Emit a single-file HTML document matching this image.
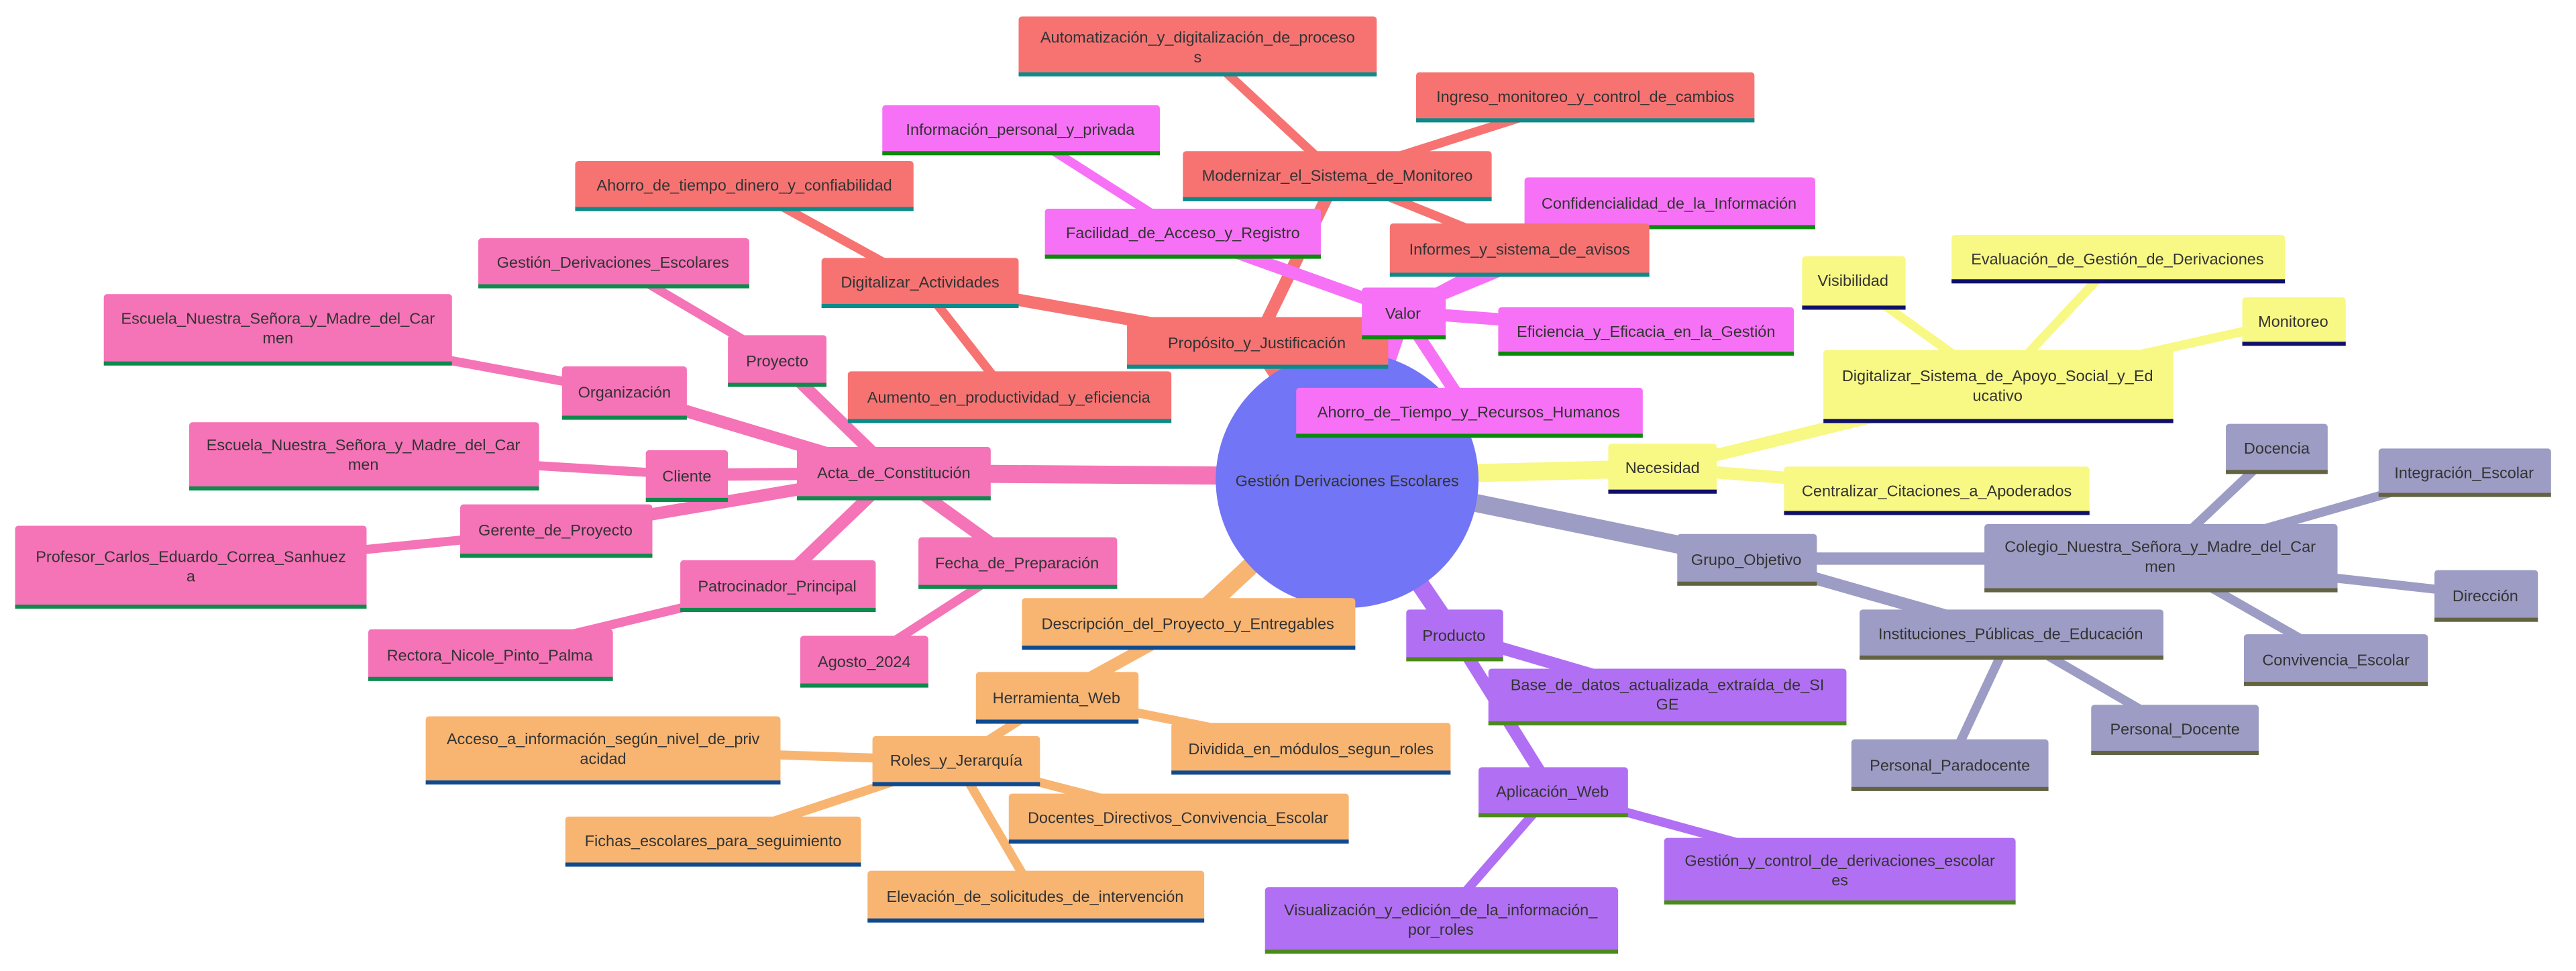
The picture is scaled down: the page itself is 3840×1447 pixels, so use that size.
<!DOCTYPE html>
<html><head><meta charset="utf-8"><style>
html,body{margin:0;padding:0;background:#fff;width:3840px;height:1447px;overflow:hidden}
svg text{font-family:"Liberation Sans",sans-serif;font-size:9.6px;fill:#333;text-anchor:middle}
</style></head><body>
<svg width="3840" height="1447" viewBox="0 0 1568 591" xmlns="http://www.w3.org/2000/svg">
<g stroke-linecap="butt">
<g stroke-width="11">
<line x1="820" y1="290" x2="765" y2="208" stroke="#f67372"/>
<line x1="820" y1="290" x2="854" y2="190" stroke="#f771f7"/>
<line x1="820" y1="290" x2="1012" y2="285" stroke="#f8f884"/>
<line x1="820" y1="290" x2="1063" y2="340" stroke="#9c9cc4"/>
<line x1="820" y1="290" x2="885" y2="386" stroke="#b170f3"/>
<line x1="820" y1="290" x2="723" y2="380" stroke="#f8b571"/>
<line x1="820" y1="290" x2="544" y2="288" stroke="#f573b7"/>
</g>
<g stroke-width="7.5">
<line x1="765" y1="208" x2="560" y2="172" stroke="#f67372"/>
<line x1="765" y1="208" x2="814" y2="107" stroke="#f67372"/>
<line x1="854" y1="190" x2="720" y2="142" stroke="#f771f7"/>
<line x1="854" y1="190" x2="925" y2="152" stroke="#f771f7"/>
<line x1="854" y1="190" x2="1002" y2="201" stroke="#f771f7"/>
<line x1="854" y1="190" x2="894" y2="251" stroke="#f771f7"/>
<line x1="1012" y1="285" x2="1216" y2="235" stroke="#f8f884"/>
<line x1="1012" y1="285" x2="1179" y2="298" stroke="#f8f884"/>
<line x1="1063" y1="340" x2="1315" y2="340" stroke="#9c9cc4"/>
<line x1="1063" y1="340" x2="1224" y2="386" stroke="#9c9cc4"/>
<line x1="885" y1="386" x2="1015" y2="424" stroke="#b170f3"/>
<line x1="885" y1="386" x2="945" y2="482" stroke="#b170f3"/>
<line x1="723" y1="380" x2="643" y2="424" stroke="#f8b571"/>
<line x1="544" y1="288" x2="473" y2="219" stroke="#f573b7"/>
<line x1="544" y1="288" x2="380" y2="239" stroke="#f573b7"/>
<line x1="544" y1="288" x2="418" y2="289" stroke="#f573b7"/>
<line x1="544" y1="288" x2="338" y2="323" stroke="#f573b7"/>
<line x1="544" y1="288" x2="473" y2="356" stroke="#f573b7"/>
<line x1="544" y1="288" x2="619" y2="342" stroke="#f573b7"/>
</g>
<g stroke-width="5.5">
<line x1="560" y1="172" x2="453" y2="113" stroke="#f67372"/>
<line x1="560" y1="172" x2="614" y2="241" stroke="#f67372"/>
<line x1="814" y1="107" x2="729" y2="28" stroke="#f67372"/>
<line x1="814" y1="107" x2="965" y2="59" stroke="#f67372"/>
<line x1="814" y1="107" x2="925" y2="152" stroke="#f67372"/>
<line x1="720" y1="142" x2="621" y2="79" stroke="#f771f7"/>
<line x1="854" y1="190" x2="1016" y2="123" stroke="#f771f7"/>
<line x1="1216" y1="235" x2="1128" y2="172" stroke="#f8f884"/>
<line x1="1216" y1="235" x2="1289" y2="157" stroke="#f8f884"/>
<line x1="1216" y1="235" x2="1396" y2="195" stroke="#f8f884"/>
<line x1="1315" y1="340" x2="1386" y2="273" stroke="#9c9cc4"/>
<line x1="1315" y1="340" x2="1500" y2="287" stroke="#9c9cc4"/>
<line x1="1315" y1="340" x2="1513" y2="362" stroke="#9c9cc4"/>
<line x1="1315" y1="340" x2="1422" y2="401" stroke="#9c9cc4"/>
<line x1="1224" y1="386" x2="1324" y2="444" stroke="#9c9cc4"/>
<line x1="1224" y1="386" x2="1187" y2="465" stroke="#9c9cc4"/>
<line x1="945" y1="482" x2="1120" y2="530" stroke="#b170f3"/>
<line x1="945" y1="482" x2="877" y2="560" stroke="#b170f3"/>
<line x1="643" y1="424" x2="798" y2="455" stroke="#f8b571"/>
<line x1="643" y1="424" x2="582" y2="463" stroke="#f8b571"/>
<line x1="582" y1="463" x2="367" y2="456" stroke="#f8b571"/>
<line x1="582" y1="463" x2="717" y2="498" stroke="#f8b571"/>
<line x1="582" y1="463" x2="434" y2="512" stroke="#f8b571"/>
<line x1="582" y1="463" x2="630" y2="545" stroke="#f8b571"/>
<line x1="473" y1="219" x2="373" y2="160" stroke="#f573b7"/>
<line x1="380" y1="239" x2="169" y2="200" stroke="#f573b7"/>
<line x1="418" y1="289" x2="221" y2="277" stroke="#f573b7"/>
<line x1="338" y1="323" x2="116" y2="345" stroke="#f573b7"/>
<line x1="473" y1="356" x2="298" y2="398" stroke="#f573b7"/>
<line x1="619" y1="342" x2="526" y2="402" stroke="#f573b7"/>
</g>
</g>

<ellipse cx="820" cy="292" rx="80" ry="78" fill="#7275f5"/>
<text x="820" y="296">Gestión Derivaciones Escolares</text>

<g>
<rect x="620" y="10" width="218" height="36" rx="2" fill="#f67372"/><rect x="620" y="44" width="218" height="2.5" fill="#0d8a8a"/>
<text x="729" y="26">Automatización_y_digitalización_de_proceso</text><text x="729" y="38">s</text>
<rect x="862" y="44" width="206" height="30" rx="2" fill="#f67372"/><rect x="862" y="72" width="206" height="2.5" fill="#0d8a8a"/><text x="965" y="62">Ingreso_monitoreo_y_control_de_cambios</text>
<rect x="350" y="98" width="206" height="30" rx="2" fill="#f67372"/><rect x="350" y="126" width="206" height="2.5" fill="#0d8a8a"/><text x="453" y="116">Ahorro_de_tiempo_dinero_y_confiabilidad</text>
<rect x="500" y="157" width="120" height="30" rx="2" fill="#f67372"/><rect x="500" y="185" width="120" height="2.5" fill="#0d8a8a"/><text x="560" y="175">Digitalizar_Actividades</text>
<rect x="516" y="226" width="197" height="31" rx="2" fill="#f67372"/><rect x="516" y="255" width="197" height="2.5" fill="#0d8a8a"/><text x="614" y="245">Aumento_en_productividad_y_eficiencia</text>
</g>
<g>
<rect x="537" y="64" width="169" height="30" rx="2" fill="#f771f7"/><rect x="537" y="92" width="169" height="2.5" fill="#0a8a0a"/><text x="621" y="82">Información_personal_y_privada</text>
<rect x="928" y="108" width="177" height="31" rx="2" fill="#f771f7"/><rect x="928" y="137" width="177" height="2.5" fill="#0a8a0a"/><text x="1016" y="127">Confidencialidad_de_la_Información</text>
</g>
<g>
<rect x="720" y="92" width="188" height="30" rx="2" fill="#f67372"/><rect x="720" y="120" width="188" height="2.5" fill="#0d8a8a"/><text x="814" y="110">Modernizar_el_Sistema_de_Monitoreo</text>
<rect x="636" y="127" width="168" height="30" rx="2" fill="#f771f7"/><rect x="636" y="155" width="168" height="2.5" fill="#0a8a0a"/><text x="720" y="145">Facilidad_de_Acceso_y_Registro</text>
<rect x="846" y="136" width="158" height="32" rx="2" fill="#f67372"/><rect x="846" y="166" width="158" height="2.5" fill="#0d8a8a"/><text x="925" y="155">Informes_y_sistema_de_avisos</text>
<rect x="686" y="193" width="159" height="31" rx="2" fill="#f67372"/><rect x="686" y="222" width="159" height="2.5" fill="#0d8a8a"/><text x="765" y="212">Propósito_y_Justificación</text>
<rect x="829" y="175" width="51" height="31" rx="2" fill="#f771f7"/><rect x="829" y="204" width="51" height="2.5" fill="#0a8a0a"/><text x="854" y="194">Valor</text>
<rect x="912" y="187" width="180" height="29" rx="2" fill="#f771f7"/><rect x="912" y="214" width="180" height="2.5" fill="#0a8a0a"/><text x="1002" y="205">Eficiencia_y_Eficacia_en_la_Gestión</text>
<rect x="789" y="236" width="211" height="30" rx="2" fill="#f771f7"/><rect x="789" y="264" width="211" height="2.5" fill="#0a8a0a"/><text x="894" y="254">Ahorro_de_Tiempo_y_Recursos_Humanos</text>
</g>
<g>
<rect x="1097" y="156" width="63" height="32" rx="2" fill="#f8f884"/><rect x="1097" y="186" width="63" height="2.5" fill="#10106b"/><text x="1128" y="174">Visibilidad</text>
<rect x="1188" y="143" width="203" height="29" rx="2" fill="#f8f884"/><rect x="1188" y="170" width="203" height="2.5" fill="#10106b"/><text x="1289" y="161">Evaluación_de_Gestión_de_Derivaciones</text>
<rect x="1365" y="181" width="63" height="29" rx="2" fill="#f8f884"/><rect x="1365" y="208" width="63" height="2.5" fill="#10106b"/><text x="1396" y="199">Monitoreo</text>
<rect x="1110" y="213" width="213" height="44" rx="2" fill="#f8f884"/><rect x="1110" y="255" width="213" height="2.5" fill="#10106b"/>
<text x="1216" y="232">Digitalizar_Sistema_de_Apoyo_Social_y_Ed</text><text x="1216" y="244">ucativo</text>
<rect x="979" y="270" width="66" height="30" rx="2" fill="#f8f884"/><rect x="979" y="298" width="66" height="2.5" fill="#10106b"/><text x="1012" y="288">Necesidad</text>
<rect x="1086" y="284" width="186" height="29" rx="2" fill="#f8f884"/><rect x="1086" y="311" width="186" height="2.5" fill="#10106b"/><text x="1179" y="302">Centralizar_Citaciones_a_Apoderados</text>
</g>
<g>
<rect x="1355" y="258" width="62" height="30" rx="2" fill="#9c9cc4"/><rect x="1355" y="286" width="62" height="2.5" fill="#636341"/><text x="1386" y="276">Docencia</text>
<rect x="1448" y="273" width="105" height="29" rx="2" fill="#9c9cc4"/><rect x="1448" y="300" width="105" height="2.5" fill="#636341"/><text x="1500" y="291">Integración_Escolar</text>
<rect x="1208" y="319" width="215" height="41" rx="2" fill="#9c9cc4"/><rect x="1208" y="358" width="215" height="2.5" fill="#636341"/>
<text x="1315" y="336">Colegio_Nuestra_Señora_y_Madre_del_Car</text><text x="1315" y="348">men</text>
<rect x="1021" y="325" width="85" height="31" rx="2" fill="#9c9cc4"/><rect x="1021" y="354" width="85" height="2.5" fill="#636341"/><text x="1063" y="344">Grupo_Objetivo</text>
<rect x="1482" y="347" width="63" height="31" rx="2" fill="#9c9cc4"/><rect x="1482" y="376" width="63" height="2.5" fill="#636341"/><text x="1513" y="366">Dirección</text>
<rect x="1132" y="371" width="185" height="30" rx="2" fill="#9c9cc4"/><rect x="1132" y="399" width="185" height="2.5" fill="#636341"/><text x="1224" y="389">Instituciones_Públicas_de_Educación</text>
<rect x="1366" y="386" width="112" height="31" rx="2" fill="#9c9cc4"/><rect x="1366" y="415" width="112" height="2.5" fill="#636341"/><text x="1422" y="405">Convivencia_Escolar</text>
<rect x="1273" y="429" width="102" height="30" rx="2" fill="#9c9cc4"/><rect x="1273" y="457" width="102" height="2.5" fill="#636341"/><text x="1324" y="447">Personal_Docente</text>
<rect x="1127" y="450" width="120" height="31" rx="2" fill="#9c9cc4"/><rect x="1127" y="479" width="120" height="2.5" fill="#636341"/><text x="1187" y="469">Personal_Paradocente</text>
</g>
<g>
<rect x="856" y="371" width="59" height="31" rx="2" fill="#b170f3"/><rect x="856" y="400" width="59" height="2.5" fill="#4b8a1a"/><text x="885" y="390">Producto</text>
<rect x="906" y="407" width="218" height="34" rx="2" fill="#b170f3"/><rect x="906" y="439" width="218" height="2.5" fill="#4b8a1a"/>
<text x="1015" y="420">Base_de_datos_actualizada_extraída_de_SI</text><text x="1015" y="432">GE</text>
<rect x="900" y="467" width="91" height="30" rx="2" fill="#b170f3"/><rect x="900" y="495" width="91" height="2.5" fill="#4b8a1a"/><text x="945" y="485">Aplicación_Web</text>
<rect x="1013" y="510" width="214" height="40" rx="2" fill="#b170f3"/><rect x="1013" y="548" width="214" height="2.5" fill="#4b8a1a"/>
<text x="1120" y="527">Gestión_y_control_de_derivaciones_escolar</text><text x="1120" y="539">es</text>
<rect x="770" y="540" width="215" height="40" rx="2" fill="#b170f3"/><rect x="770" y="578" width="215" height="2.5" fill="#4b8a1a"/>
<text x="877" y="557">Visualización_y_edición_de_la_información_</text><text x="877" y="569">por_roles</text>
</g>
<g>
<rect x="622" y="364" width="203" height="31" rx="2" fill="#f8b571"/><rect x="622" y="393" width="203" height="2.5" fill="#0f4a8f"/><text x="723" y="383">Descripción_del_Proyecto_y_Entregables</text>
<rect x="594" y="409" width="99" height="31" rx="2" fill="#f8b571"/><rect x="594" y="438" width="99" height="2.5" fill="#0f4a8f"/><text x="643" y="428">Herramienta_Web</text>
<rect x="713" y="440" width="170" height="31" rx="2" fill="#f8b571"/><rect x="713" y="469" width="170" height="2.5" fill="#0f4a8f"/><text x="798" y="459">Dividida_en_módulos_segun_roles</text>
<rect x="259" y="436" width="216" height="41" rx="2" fill="#f8b571"/><rect x="259" y="475" width="216" height="2.5" fill="#0f4a8f"/>
<text x="367" y="453">Acceso_a_información_según_nivel_de_priv</text><text x="367" y="465">acidad</text>
<rect x="531" y="448" width="102" height="30" rx="2" fill="#f8b571"/><rect x="531" y="476" width="102" height="2.5" fill="#0f4a8f"/><text x="582" y="466">Roles_y_Jerarquía</text>
<rect x="614" y="483" width="207" height="30" rx="2" fill="#f8b571"/><rect x="614" y="511" width="207" height="2.5" fill="#0f4a8f"/><text x="717" y="501">Docentes_Directivos_Convivencia_Escolar</text>
<rect x="344" y="497" width="180" height="30" rx="2" fill="#f8b571"/><rect x="344" y="525" width="180" height="2.5" fill="#0f4a8f"/><text x="434" y="515">Fichas_escolares_para_seguimiento</text>
<rect x="528" y="530" width="205" height="31" rx="2" fill="#f8b571"/><rect x="528" y="559" width="205" height="2.5" fill="#0f4a8f"/><text x="630" y="549">Elevación_de_solicitudes_de_intervención</text>
</g>
<g>
<rect x="291" y="145" width="165" height="30" rx="2" fill="#f573b7"/><rect x="291" y="173" width="165" height="2.5" fill="#0e8a4c"/><text x="373" y="163">Gestión_Derivaciones_Escolares</text>
<rect x="63" y="179" width="212" height="43" rx="2" fill="#f573b7"/><rect x="63" y="220" width="212" height="2.5" fill="#0e8a4c"/>
<text x="169" y="197">Escuela_Nuestra_Señora_y_Madre_del_Car</text><text x="169" y="209">men</text>
<rect x="342" y="223" width="76" height="32" rx="2" fill="#f573b7"/><rect x="342" y="253" width="76" height="2.5" fill="#0e8a4c"/><text x="380" y="242">Organización</text>
<rect x="443" y="204" width="60" height="31" rx="2" fill="#f573b7"/><rect x="443" y="233" width="60" height="2.5" fill="#0e8a4c"/><text x="473" y="223">Proyecto</text>
<rect x="485" y="272" width="118" height="32" rx="2" fill="#f573b7"/><rect x="485" y="302" width="118" height="2.5" fill="#0e8a4c"/><text x="544" y="291">Acta_de_Constitución</text>
<rect x="115" y="257" width="213" height="41" rx="2" fill="#f573b7"/><rect x="115" y="296" width="213" height="2.5" fill="#0e8a4c"/>
<text x="221" y="274">Escuela_Nuestra_Señora_y_Madre_del_Car</text><text x="221" y="286">men</text>
<rect x="393" y="274" width="50" height="31" rx="2" fill="#f573b7"/><rect x="393" y="303" width="50" height="2.5" fill="#0e8a4c"/><text x="418" y="293">Cliente</text>
<rect x="280" y="307" width="117" height="32" rx="2" fill="#f573b7"/><rect x="280" y="337" width="117" height="2.5" fill="#0e8a4c"/><text x="338" y="326">Gerente_de_Proyecto</text>
<rect x="9" y="320" width="214" height="50" rx="2" fill="#f573b7"/><rect x="9" y="368" width="214" height="2.5" fill="#0e8a4c"/>
<text x="116" y="342">Profesor_Carlos_Eduardo_Correa_Sanhuez</text><text x="116" y="354">a</text>
<rect x="414" y="341" width="119" height="31" rx="2" fill="#f573b7"/><rect x="414" y="370" width="119" height="2.5" fill="#0e8a4c"/><text x="473" y="360">Patrocinador_Principal</text>
<rect x="559" y="327" width="121" height="31" rx="2" fill="#f573b7"/><rect x="559" y="356" width="121" height="2.5" fill="#0e8a4c"/><text x="619" y="346">Fecha_de_Preparación</text>
<rect x="224" y="383" width="149" height="31" rx="2" fill="#f573b7"/><rect x="224" y="412" width="149" height="2.5" fill="#0e8a4c"/><text x="298" y="402">Rectora_Nicole_Pinto_Palma</text>
<rect x="487" y="387" width="78" height="31" rx="2" fill="#f573b7"/><rect x="487" y="416" width="78" height="2.5" fill="#0e8a4c"/><text x="526" y="406">Agosto_2024</text>
</g>
</svg>
</body></html>
